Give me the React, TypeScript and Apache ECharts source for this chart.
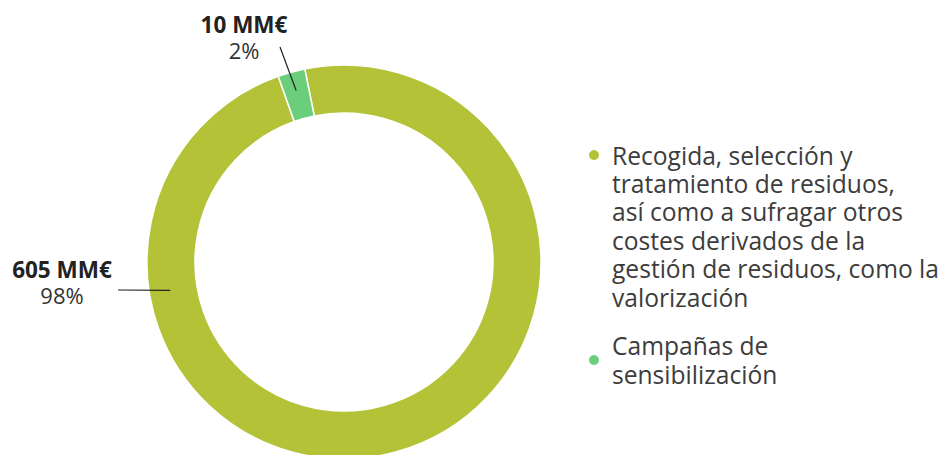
import React, { useEffect, useRef } from "react";
import * as echarts from "echarts";

// ---- data ----
const categories = [
  "Recogida, selección y tratamiento de residuos, así como a sufragar otros costes derivados de la gestión de residuos, como la valorización",
  "Campañas de sensibilización",
];
const legendLines = [
  ["Recogida, selección y", "tratamiento de residuos,", "así como a sufragar otros", "costes derivados de la", "gestión de residuos, como la", "valorización"],
  ["Campañas de", "sensibilización"],
];
const values = [605, 10]; // MM€
const colors = ["#b4c238", "#6bce7b"];

// ---- layout ----
const CX = 344;
const CY = 262;
const R_IN = 149;
const R_OUT = 197;
const FONT = "'Open Sans', 'Noto Sans', sans-serif";
const LEG_FS = 24.6;
const LEG_LH = 28.4;
const DOT1_Y = 155;
const DOT2_Y = 360;

// label anchor: text centre + leader line (start point inside ring via angle/radius, end point)
const labelPos = [
  { x: 62, y: 282, angle: 189.3, r: 176, ex: 118, ey: 290 },
  { x: 244, y: 37, angle: 105.6, r: 178, ex: 280, ey: 47 },
];

export default function App() {
  const ref = useRef<HTMLDivElement>(null);
  useEffect(() => {
    if (!ref.current) return;
    const chart = echarts.init(ref.current, undefined, { renderer: "svg" });
    const data = categories.map((name, i) => ({ name, value: values[i], itemStyle: { color: colors[i] } }));
    const labelData = categories.map((name, i) => ({ name, value: values[i] }));
    // first legend item: dot aligned with its first line (pad with blank lines above so the block centre is the first line)
    const pad1 = legendLines[0].length - 1;
    const fmt1 = () => "\n".repeat(pad1) + legendLines[0].join("\n");
    const fmt2 = () => legendLines[1].join("\n");
    const legendText = { fontFamily: FONT, fontSize: LEG_FS, lineHeight: LEG_LH, color: "#3c3c3c", padding: [0, 0, 0, 7] };
    const legendBase = {
      orient: "vertical",
      left: 587,
      padding: 0,
      icon: "circle",
      itemWidth: 12,
      itemHeight: 12,
      selectedMode: false,
      textStyle: legendText,
    };
    const sharedPie = {
      type: "pie",
      center: [CX, CY],
      radius: [R_IN, R_OUT],
      startAngle: 101.5,
      clockwise: true,
      minAngle: 8,
      avoidLabelOverlap: false,
      emphasis: { disabled: true },
    };
    chart.setOption({
      animation: false,
      backgroundColor: "#ffffff",
      legend: [
        {
          ...legendBase,
          data: [categories[0]],
          top: DOT1_Y - ((pad1 + legendLines[0].length) * LEG_LH) / 2,
          formatter: fmt1,
        },
        {
          ...legendBase,
          data: [categories[1]],
          top: DOT2_Y - (legendLines[1].length * LEG_LH) / 2,
          formatter: fmt2,
        },
      ],
      series: [
        {
          ...sharedPie,
          z: 2,
          itemStyle: { borderColor: "#ffffff", borderWidth: 1.5 },
          label: { show: false },
          labelLine: { show: false },
          data,
        },
        {
          ...sharedPie,
          z: 3,
          silent: true,
          itemStyle: { color: "rgba(0,0,0,0)", borderWidth: 0 },
          percentPrecision: 0,
          label: {
            show: true,
            position: "outside",
            formatter: "{b|{c} MM€}\n{p|{d}%}",
            rich: {
              b: { fontFamily: FONT, fontSize: 22.5, fontWeight: "bold", color: "#222222", lineHeight: 26, align: "center" },
              p: { fontFamily: FONT, fontSize: 22, color: "#333333", lineHeight: 26, align: "center" },
            },
          },
          labelLine: { show: true, lineStyle: { color: "#222222", width: 1.2 } },
          labelLayout: (params: any) => {
            const p = labelPos[params.dataIndex];
            const a = (p.angle * Math.PI) / 180;
            const sx = CX + p.r * Math.cos(a);
            const sy = CY - p.r * Math.sin(a);
            return {
              x: p.x,
              y: p.y,
              align: "center",
              verticalAlign: "middle",
              labelLinePoints: [
                [sx, sy],
                [p.ex, p.ey],
                [p.ex, p.ey],
              ],
            };
          },
          data: labelData,
        },
      ],
    });
    return () => chart.dispose();
  }, []);
  return <div ref={ref} style={{ position: "fixed", left: 0, top: 0, width: 945, height: 455 }} />;
}
